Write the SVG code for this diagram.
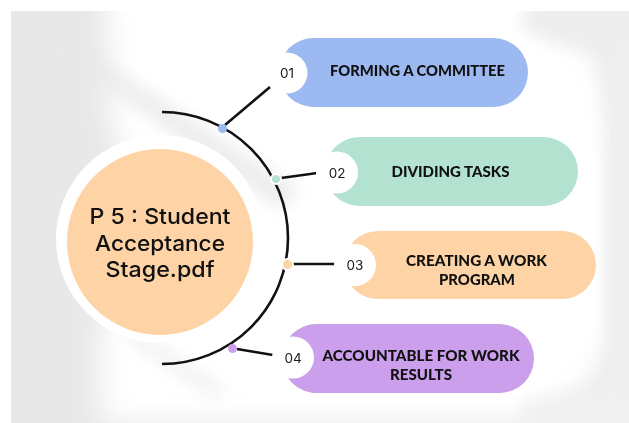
<svg xmlns="http://www.w3.org/2000/svg" width="629" height="423" viewBox="0 0 629 423">
  <defs>
    <style>
      .pill-text { font-family: "Lato", "Liberation Sans", sans-serif; font-weight: 900; font-size: 14.5px; fill: #111111; text-anchor: middle; }
      .num { font-family: "Inter", "Liberation Sans", sans-serif; font-weight: 400; font-size: 13.5px; fill: #1a1a1a; text-anchor: middle; }
      .title { font-family: "Inter", "Liberation Sans", sans-serif; font-weight: 500; font-size: 22px; fill: #111111; text-anchor: middle; }
      .link { stroke: #111111; stroke-width: 2.6; fill: none; stroke-linecap: butt; }
      .badge { fill: #ffffff; }
    </style>
    <clipPath id="panelClip">
      <rect x="11" y="11" width="618" height="412"/>
    </clipPath>
    <filter id="soft" x="-30%" y="-30%" width="160%" height="160%">
      <feGaussianBlur stdDeviation="14"/>
    </filter>
    <filter id="softer" x="-30%" y="-30%" width="160%" height="160%">
      <feGaussianBlur stdDeviation="8"/>
    </filter>
  </defs>

  <!-- page and softly lit backdrop panel -->
  <rect x="0" y="0" width="629" height="423" fill="#ffffff"/>
  <g clip-path="url(#panelClip)">
    <rect x="11" y="11" width="618" height="412" fill="#e8e8e8"/>
    <g filter="url(#soft)">
      <polygon points="105,-20 520,-20 600,60 629,160 629,330 560,423 100,423 100,330 150,230 110,120" fill="#ffffff"/>
    </g>
    <g filter="url(#softer)">
      <polygon points="40,40 70,40 300,190 280,210" fill="#e8e8e8" opacity="0.8"/>
      <polygon points="120,335 140,330 230,390 210,398" fill="#ebebeb" opacity="0.6"/>
      <rect x="605" y="0" width="60" height="423" fill="#eeeeee"/>
      <ellipse cx="610" cy="20" rx="90" ry="28" fill="#ededed"/>
      <ellipse cx="600" cy="412" rx="80" ry="22" fill="#f0f0f0"/>
    </g>
  </g>

  <!-- central topic -->
  <g id="center-topic">
    <circle cx="160" cy="239" r="104" fill="#ffffff"/>
    <circle cx="160" cy="242" r="93" fill="#fed4a6"/>
    <circle cx="190" cy="148" r="5" fill="#ffffff"/>
    <text class="title" x="160" y="224" textLength="141" lengthAdjust="spacingAndGlyphs">P 5 : Student</text>
    <text class="title" x="160" y="251" textLength="130" lengthAdjust="spacingAndGlyphs">Acceptance</text>
    <text class="title" x="160" y="277" textLength="109" lengthAdjust="spacingAndGlyphs">Stage.pdf</text>
  </g>

  <!-- arc and connector lines -->
  <g id="connectors">
    <path class="link" d="M 162 112 A 126 126 0 0 1 162 364"/>
    <line class="link" x1="225" y1="125" x2="270" y2="87"/>
    <line class="link" x1="281" y1="178" x2="317" y2="173"/>
    <line class="link" x1="293" y1="264" x2="335" y2="264"/>
    <line class="link" x1="237" y1="349" x2="273" y2="355"/>
    <circle cx="222.5" cy="128.5" r="4.5" fill="#9db9f1"/>
    <circle cx="276" cy="179" r="5" fill="#b3e3d0" stroke="#ffffff" stroke-width="2"/>
    <circle cx="287.5" cy="264.5" r="5.5" fill="#fed4a6" stroke="#ffffff" stroke-width="2"/>
    <circle cx="232.5" cy="348.5" r="4.5" fill="#cb9fec"/>
  </g>

  <!-- step 01 -->
  <g id="step-01">
    <rect x="279" y="38" width="249" height="69" rx="34.5" fill="#9db9f1"/>
    <circle class="badge" cx="287" cy="73" r="20.5"/>
    <text class="num" x="287" y="78">01</text>
    <text class="pill-text" x="417.5" y="76" textLength="175" lengthAdjust="spacingAndGlyphs">FORMING A COMMITTEE</text>
  </g>

  <!-- step 02 -->
  <g id="step-02">
    <rect x="325" y="137" width="253" height="69" rx="34.5" fill="#b3e3d0"/>
    <circle class="badge" cx="337" cy="172.5" r="21"/>
    <text class="num" x="337" y="177.5">02</text>
    <text class="pill-text" x="450.5" y="177" textLength="118" lengthAdjust="spacingAndGlyphs">DIVIDING TASKS</text>
  </g>

  <!-- step 03 -->
  <g id="step-03">
    <rect x="344" y="231" width="252" height="68" rx="34" fill="#fed4a6"/>
    <circle class="badge" cx="355" cy="265" r="21"/>
    <text class="num" x="355" y="270">03</text>
    <text class="pill-text" x="476.5" y="265.5" textLength="141" lengthAdjust="spacingAndGlyphs">CREATING A WORK</text>
    <text class="pill-text" x="477" y="284.5" textLength="76" lengthAdjust="spacingAndGlyphs">PROGRAM</text>
  </g>

  <!-- step 04 -->
  <g id="step-04">
    <rect x="282" y="324" width="252" height="69" rx="34.5" fill="#cb9fec"/>
    <circle class="badge" cx="293" cy="357.5" r="21"/>
    <text class="num" x="293" y="362.5">04</text>
    <text class="pill-text" x="421" y="361" textLength="197" lengthAdjust="spacingAndGlyphs">ACCOUNTABLE FOR WORK</text>
    <text class="pill-text" x="421" y="379.5" textLength="62" lengthAdjust="spacingAndGlyphs">RESULTS</text>
  </g>
</svg>
